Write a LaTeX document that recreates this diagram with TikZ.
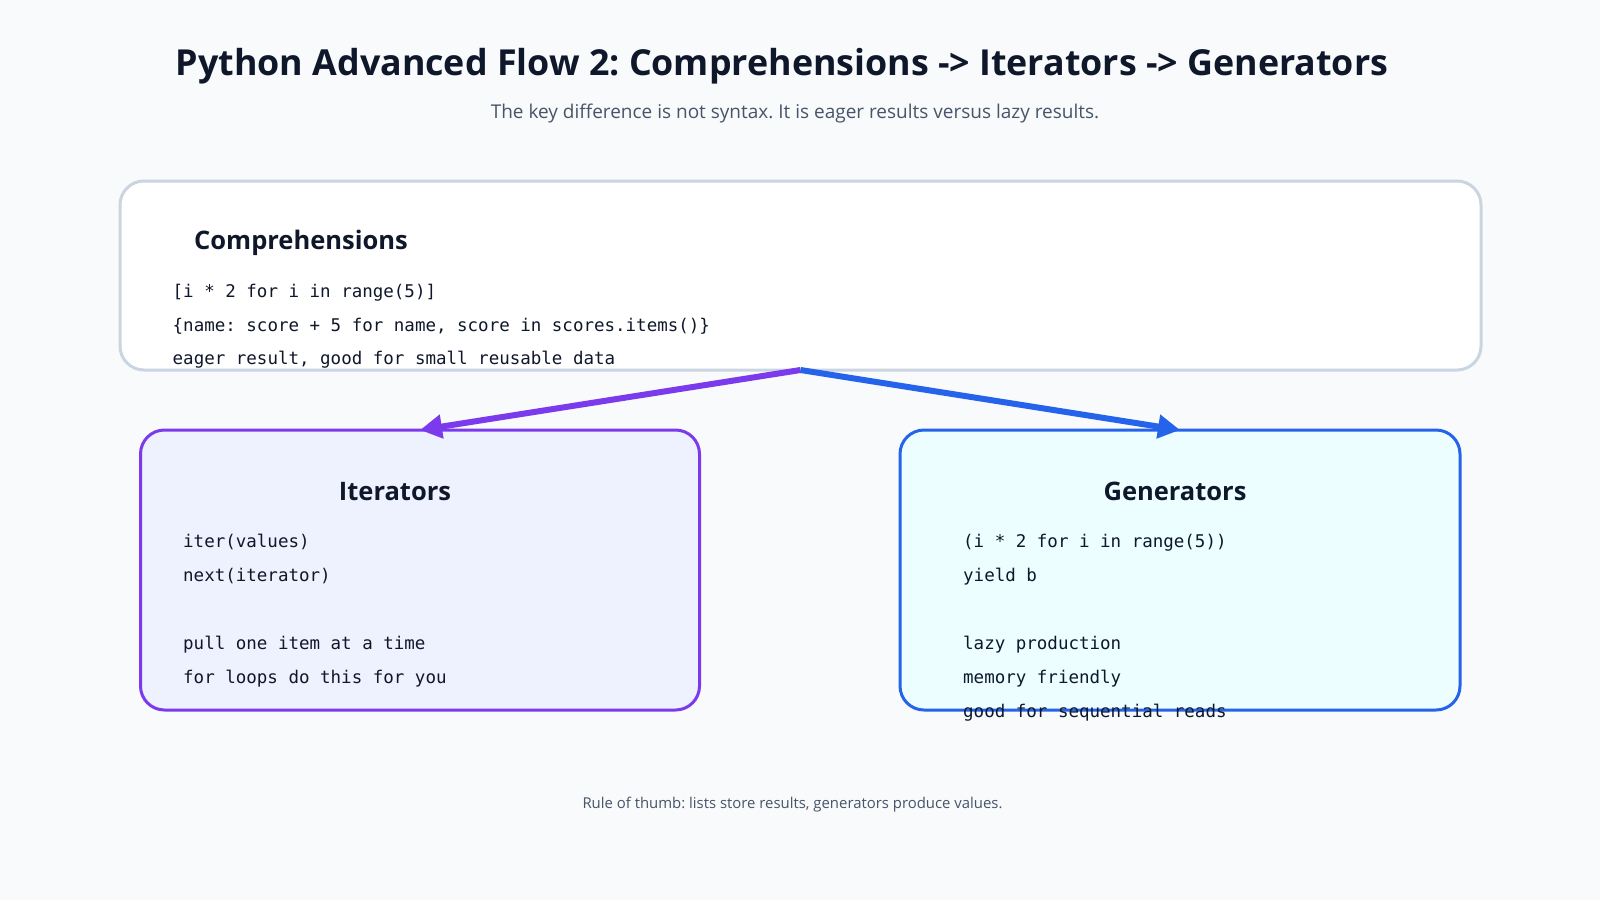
\documentclass[tikz,border=0pt]{standalone}
\usepackage{fontspec}
\setmainfont{Open Sans}
\newfontfamily\codefont{DejaVu Sans Mono}
\usetikzlibrary{arrows.meta}
\frenchspacing
\definecolor{bg}{HTML}{F8FAFC}
\definecolor{ink}{HTML}{0F172A}
\definecolor{slate}{HTML}{475569}
\definecolor{graybd}{HTML}{CBD5E1}
\definecolor{purp}{HTML}{7C3AED}
\definecolor{purpfill}{HTML}{EEF2FF}
\definecolor{blu}{HTML}{2563EB}
\definecolor{blufill}{HTML}{ECFEFF}
\tikzset{
  titletext/.style={font=\fontsize{35.8}{42}\selectfont\bfseries, text=ink, inner sep=0, anchor=base},
  subtext/.style={font=\fontsize{19}{23}\selectfont, text=slate, inner sep=0, anchor=base},
  headtext/.style={font=\fontsize{25.5}{30}\selectfont\bfseries, text=ink, inner sep=0},
  codetext/.style={font=\codefont\fontsize{17.5}{21}\selectfont, text=ink, inner sep=0, anchor=base west},
  foottext/.style={font=\fontsize{14.9}{18}\selectfont, text=slate, inner sep=0, anchor=base},
  panel/.style={rectangle, rounded corners=24pt, line width=3pt, inner sep=0, outer sep=0},
  flow/.style={line width=6pt, -{Triangle[length=22pt,width=23pt]}}
}
\begin{document}
\begin{tikzpicture}[x=1pt,y=-1pt]
\fill[bg] (0,0) rectangle (1600,900);
\useasboundingbox (0,0) rectangle (1600,900);

\node[titletext] (title) at (782,75) {Python Advanced Flow 2: Comprehensions -> Iterators -> Generators};
\node[subtext] (subtitle) at (795,118) {The key difference is not syntax. It is eager results versus lazy results.};

\node[panel, draw=graybd, fill=white, minimum width=1361pt, minimum height=189pt] (comp) at (800.5,275.5) {};
\node[panel, draw=purp, fill=purpfill, minimum width=559pt, minimum height=280pt] (iter) at (420,570) {};
\node[panel, draw=blu, fill=blufill, minimum width=560pt, minimum height=280pt] (gen) at (1180,570) {};

\draw[flow, purp] (comp.south) -- (iter.north);
\draw[flow, blu] (comp.south) -- (gen.north);

\node[headtext, anchor=base west] (comphead) at (194,249) {Comprehensions};
\node[codetext] (c1) at (172.5,297) {[i * 2 for i in range(5)]};
\node[codetext] (c2) at (172.5,331) {\{name: score + 5 for name, score in scores.items()\}};
\node[codetext] (c3) at (172.5,364) {eager result, good for small reusable data};

\node[headtext, anchor=base] (iterhead) at (395,500) {Iterators};
\node[codetext] (i1) at (183,547) {iter(values)};
\node[codetext] (i2) at (183,581) {next(iterator)};
\node[codetext] (i3) at (183,649) {pull one item at a time};
\node[codetext] (i4) at (183,683) {for loops do this for you};

\node[headtext, anchor=base] (genhead) at (1175,500) {Generators};
\node[codetext] (g1) at (963,547) {(i * 2 for i in range(5))};
\node[codetext] (g2) at (963,581) {yield b};
\node[codetext] (g3) at (963,649) {lazy production};
\node[codetext] (g4) at (963,683) {memory friendly};
\node[codetext] (g5) at (963,717) {good for sequential reads};

\node[foottext] (foot) at (792.5,808) {Rule of thumb: lists store results, generators produce values.};
\end{tikzpicture}
\end{document}
